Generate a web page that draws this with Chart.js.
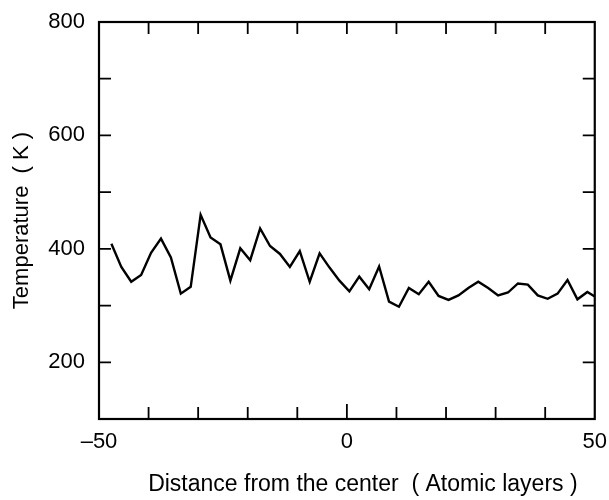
<!DOCTYPE html>
<html>
<head>
<meta charset="utf-8">
<title>Temperature profile</title>
<script src="https://cdn.jsdelivr.net/npm/chart.js@4/dist/chart.umd.min.js"></script>
<style>
  html, body { margin: 0; padding: 0; background: #fff; }
</style>
</head>
<body>
<canvas id="myChart" width="609" height="500"></canvas>
<script>
// distance from the center (atomic layers) and temperature (K)
const layers = [-47.5, -45.5, -43.5, -41.5, -39.5, -37.5, -35.5, -33.5, -31.5, -29.5,
                -27.5, -25.5, -23.5, -21.5, -19.5, -17.5, -15.5, -13.5, -11.5, -9.5,
                -7.5, -5.5, -3.5, -1.5, 0.5, 2.5, 4.5, 6.5, 8.5, 10.5,
                12.5, 14.5, 16.5, 18.5, 20.5, 22.5, 24.5, 26.5, 28.5, 30.5,
                32.5, 34.5, 36.5, 38.5, 40.5, 42.5, 44.5, 46.5, 48.5, 50];
const temps = [409, 368, 342, 354, 393, 418, 385, 321, 333, 460,
               420, 408, 344, 401, 380, 436, 405, 391, 368, 396,
               342, 392, 367, 344, 325, 351, 329, 369, 307, 298,
               331, 320, 342, 317, 310, 318, 331, 342, 331, 318,
               323, 339, 337, 318, 312, 321, 345, 311, 324, 316];

const xLabels = [-50, 0, 50];
const yLabels = [200, 400, 600, 800];
const xMarks = [-40, -30, -20, -10, 0, 10, 20, 30, 40];
const yMarks = [200, 300, 400, 500, 600, 700];

const font = { family: '"Liberation Sans", Arial, sans-serif', size: 22 };
const titleFont = { family: '"Liberation Sans", Arial, sans-serif', size: 23 };

// box round the plot with short inward ticks on all four sides
const frame = {
  id: 'frame',
  afterDraw(chart) {
    const { ctx, chartArea: a, scales } = chart;
    const len = 12;
    ctx.save();
    ctx.strokeStyle = '#000';
    ctx.lineWidth = 1.8;
    ctx.beginPath();
    xMarks.forEach(v => {
      const px = scales.x.getPixelForValue(v);
      const l = v === 0 ? len + 3 : len;
      ctx.moveTo(px, a.bottom); ctx.lineTo(px, a.bottom - l);
      ctx.moveTo(px, a.top); ctx.lineTo(px, a.top + len);
    });
    yMarks.forEach(v => {
      const py = scales.y.getPixelForValue(v);
      ctx.moveTo(a.left, py); ctx.lineTo(a.left + len, py);
      ctx.moveTo(a.right, py); ctx.lineTo(a.right - len, py);
    });
    ctx.stroke();
    ctx.lineWidth = 2.2;
    ctx.strokeRect(a.left, a.top, a.right - a.left, a.bottom - a.top);

    // axis title below the plot, set a little right of centre
    ctx.fillStyle = '#000';
    ctx.font = `${titleFont.size}px ${titleFont.family}`;
    ctx.textAlign = 'center';
    ctx.textBaseline = 'alphabetic';
    ctx.fillText('Distance from the center  ( Atomic layers )', (a.left + a.right) / 2 + 16, 491);
    ctx.restore();
  }
};

const ctx = document.getElementById('myChart').getContext('2d');
const myChart = new Chart(ctx, {
  type: 'line',
  data: {
    datasets: [{
      data: layers.map((x, i) => ({ x: x, y: temps[i] })),
      borderColor: '#000',
      borderWidth: 2.4,
      pointRadius: 0,
      tension: 0,
      fill: false
    }]
  },
  options: {
    responsive: false,
    animation: false,
    layout: { padding: { top: 22, right: 12, left: 0, bottom: 0 } },
    plugins: { legend: { display: false }, tooltip: { enabled: false } },
    scales: {
      x: {
        type: 'linear',
        min: -50,
        max: 50,
        afterBuildTicks: s => { s.ticks = xLabels.map(v => ({ value: v })); },
        afterFit: s => { s.height = 81; },
        grid: { display: false },
        border: { display: false },
        ticks: {
          font: font,
          color: '#000',
          padding: 2,
          maxRotation: 0,
          autoSkip: false,
          callback: v => v < 0 ? '\u2013' + Math.abs(v) : String(v)
        }
      },
      y: {
        min: 100,
        max: 800,
        afterBuildTicks: s => { s.ticks = yLabels.map(v => ({ value: v })); },
        afterFit: s => { s.width = 99; },
        grid: { display: false },
        border: { display: false },
        ticks: { font: font, color: '#000', padding: 6 },
        title: {
          display: true,
          text: 'Temperature  ( K )',
          font: font,
          color: '#000',
          padding: { top: 9, bottom: 0 }
        }
      }
    }
  },
  plugins: [frame]
});
</script>
</body>
</html>
